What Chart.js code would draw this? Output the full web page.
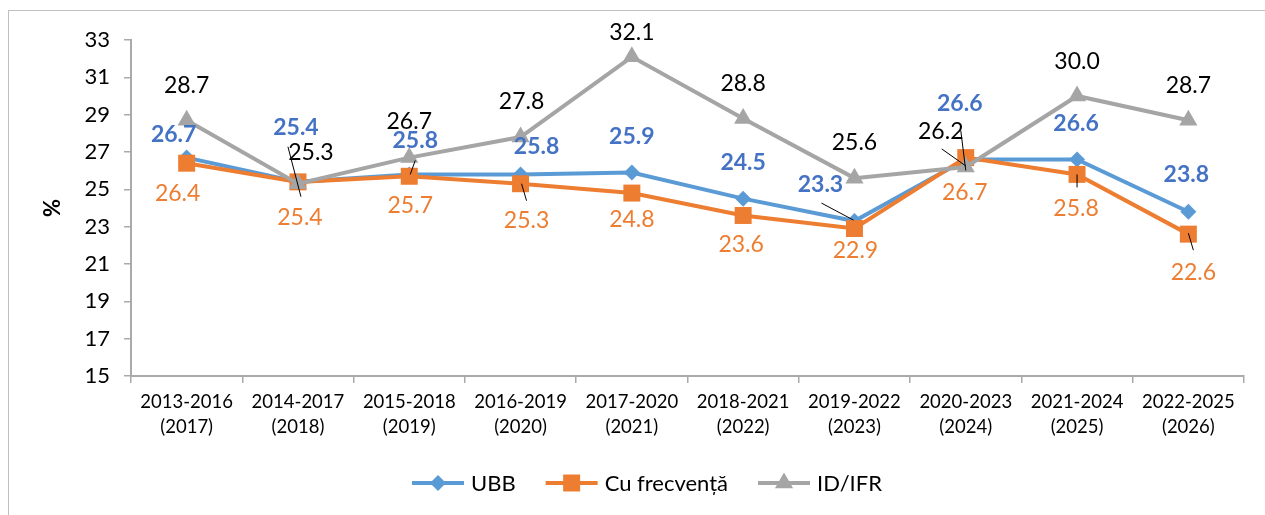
<!DOCTYPE html>
<html lang="ro">
<head>
    <meta charset="UTF-8">
    <title>UBB - rata</title>
    <script src="https://cdn.jsdelivr.net/npm/chart.js"></script>
    <style>
        html, body {
            margin: 0;
            padding: 0;
            background: #fff;
            overflow: hidden;
        }
        .frame {
            position: absolute;
            left: 8px;
            top: 10px;
            width: 1300px;
            height: 600px;
            border-left: 1.5px solid #bfbfbf;
            border-top: 1.5px solid #bfbfbf;
        }
        .chart-container {
            position: absolute;
            left: 0;
            top: 0;
            width: 1265px;
            height: 515px;
        }
    </style>
</head>
<body>
    <div class="frame"></div>
    <div class="chart-container">
        <canvas id="ubbChart"></canvas>
    </div>

    <script>
        // data
        const periods = ['2013-2016', '2014-2017', '2015-2018', '2016-2019', '2017-2020',
                         '2018-2021', '2019-2022', '2020-2023', '2021-2024', '2022-2025'];
        const years = ['(2017)', '(2018)', '(2019)', '(2020)', '(2021)',
                       '(2022)', '(2023)', '(2024)', '(2025)', '(2026)'];
        const ubb = [26.7, 25.4, 25.8, 25.8, 25.9, 24.5, 23.3, 26.6, 26.6, 23.8];
        const cuFrecventa = [26.4, 25.4, 25.7, 25.3, 24.8, 23.6, 22.9, 26.7, 25.8, 22.6];
        const idIfr = [28.7, 25.3, 26.7, 27.8, 32.1, 28.8, 25.6, 26.2, 30.0, 28.7];
        const yTicks = [15, 17, 19, 21, 23, 25, 27, 29, 31, 33];

        const FONT = 'Lato, "Open Sans", sans-serif';

        // label placement (px from the point), like the hand-moved labels of the original
        const labelPos = {
            0: [[-13, -23], [-2, -54], [6, -34], [16, -28], [0, -36], [0, -36], [-34, -36], [-6, -56], [-1, -36], [-2, -37]],
            1: [[-9, 30], [2, 36], [1, 29], [6, 37], [0, 27], [-2, 29], [1, 22], [-1, 35], [-1, 34], [5, 38]],
            2: [[0, -35], [13, -31], [0, -36], [1, -35], [0, -24], [0, -35], [0, -36], [-25, -35], [0, -34], [0, -35]]
        };
        // leader lines [dataset, index, x1, y1, x2, y2] relative to the point
        const leaders = [
            [2, 1, -10, -37, 3, 13],
            [0, 2, 6, -14, 1, 0],
            [0, 6, -33, -18, -1, -1],
            [0, 7, -5, -29, 0, 11],
            [2, 7, -24, -18, 0, -1],
            [1, 3, 1, 0, 6, 17],
            [1, 8, 0, 0, 0, 13],
            [1, 9, 0, -1, 5, 16]
        ];

        const labelStyle = [
            { color: '#4472C4', weight: 'bold' },
            { color: '#ED7D31', weight: 'normal' },
            { color: '#000000', weight: 'normal' }
        ];

        const dataLabels = {
            id: 'dataLabels',
            afterDatasetsDraw(chart) {
                const ctx = chart.ctx;
                ctx.save();
                ctx.strokeStyle = '#000';
                ctx.lineWidth = 1;
                leaders.forEach(([d, i, x1, y1, x2, y2]) => {
                    const p = chart.getDatasetMeta(d).data[i];
                    ctx.beginPath();
                    ctx.moveTo(p.x + x1, p.y + y1);
                    ctx.lineTo(p.x + x2, p.y + y2);
                    ctx.stroke();
                });
                ctx.textAlign = 'center';
                ctx.textBaseline = 'middle';
                chart.data.datasets.forEach((ds, d) => {
                    const meta = chart.getDatasetMeta(d);
                    ctx.font = labelStyle[d].weight + ' 23px ' + FONT;
                    ctx.fillStyle = labelStyle[d].color;
                    meta.data.forEach((p, i) => {
                        const off = labelPos[d][i];
                        ctx.fillText(ds.data[i].toFixed(1), p.x + off[0], p.y + off[1]);
                    });
                });
                ctx.restore();
            }
        };

        // legend with line + marker, like the office one
        const lineLegend = {
            id: 'lineLegend',
            afterDraw(chart) {
                const ctx = chart.ctx;
                const y = 483;
                ctx.save();
                ctx.font = '22px ' + FONT;
                ctx.textBaseline = 'middle';
                const items = chart.data.datasets.map(ds => ({
                    ds: ds,
                    w: 59 + ctx.measureText(ds.label).width
                }));
                const gap = 30;
                let total = items.reduce((s, it) => s + it.w, 0) + gap * (items.length - 1);
                let x = 647 - total / 2;
                items.forEach(it => {
                    const ds = it.ds;
                    ctx.strokeStyle = ds.borderColor;
                    ctx.lineWidth = 4;
                    ctx.beginPath();
                    ctx.moveTo(x, y);
                    ctx.lineTo(x + 52, y);
                    ctx.stroke();
                    ctx.fillStyle = ds.borderColor;
                    const cx = x + 26;
                    const r = ds.pointRadius;
                    ctx.beginPath();
                    if (ds.pointStyle === 'rectRot') {
                        ctx.moveTo(cx, y - r); ctx.lineTo(cx + r, y);
                        ctx.lineTo(cx, y + r); ctx.lineTo(cx - r, y);
                    } else if (ds.pointStyle === 'rect') {
                        const s = r * Math.SQRT1_2;
                        ctx.rect(cx - s, y - s, 2 * s, 2 * s);
                    } else {
                        ctx.moveTo(cx, y - r);
                        ctx.lineTo(cx + r * 0.866, y + r / 2);
                        ctx.lineTo(cx - r * 0.866, y + r / 2);
                    }
                    ctx.closePath();
                    ctx.fill();
                    ctx.fillStyle = '#000';
                    ctx.fillText(ds.label, x + 59, y + 1);
                    x += it.w + gap;
                });
                ctx.restore();
            }
        };

        const ctx = document.getElementById('ubbChart').getContext('2d');
        const ubbChart = new Chart(ctx, {
            type: 'line',
            data: {
                labels: periods.map((p, i) => [p, years[i]]),
                datasets: [{
                    label: 'UBB',
                    data: ubb,
                    borderColor: '#5B9BD5',
                    backgroundColor: '#5B9BD5',
                    borderWidth: 4,
                    pointStyle: 'rectRot',
                    pointRadius: 8,
                    pointBorderWidth: 0,
                    order: 3
                }, {
                    label: 'Cu frecvență',
                    data: cuFrecventa,
                    borderColor: '#ED7D31',
                    backgroundColor: '#ED7D31',
                    borderWidth: 4,
                    pointStyle: 'rect',
                    pointRadius: 12,
                    pointBorderWidth: 0,
                    order: 2
                }, {
                    label: 'ID/IFR',
                    data: idIfr,
                    borderColor: '#A5A5A5',
                    backgroundColor: '#A5A5A5',
                    borderWidth: 4,
                    pointStyle: 'triangle',
                    pointRadius: 10.5,
                    pointBorderWidth: 0,
                    order: 1
                }]
            },
            options: {
                responsive: true,
                maintainAspectRatio: false,
                animation: false,
                layout: { padding: { top: 40, right: 21, bottom: 0, left: 0 } },
                plugins: {
                    legend: { display: false },
                    tooltip: { enabled: false }
                },
                scales: {
                    x: {
                        offset: true,
                        grid: {
                            offset: true,
                            drawOnChartArea: false,
                            drawTicks: true,
                            tickLength: 7,
                            color: '#aaaaaa',
                            lineWidth: 1.5
                        },
                        border: { color: '#aaaaaa', width: 2 },
                        ticks: {
                            color: '#000',
                            padding: 7,
                            maxRotation: 0,
                            autoSkip: false,
                            font: { family: FONT, size: 18.5, lineHeight: 1.35 }
                        },
                        afterFit(scale) { scale.height = 139; }
                    },
                    y: {
                        min: 15,
                        max: 33,
                        afterBuildTicks(scale) {
                            scale.ticks = yTicks.map(v => ({ value: v }));
                        },
                        grid: {
                            drawOnChartArea: false,
                            drawTicks: true,
                            tickLength: 7,
                            color: '#aaaaaa',
                            lineWidth: 1.5
                        },
                        border: { color: '#aaaaaa', width: 2 },
                        ticks: {
                            color: '#000',
                            padding: 14,
                            font: { family: FONT, size: 22 }
                        },
                        title: {
                            display: true,
                            text: '%',
                            color: '#000',
                            padding: { top: 40, bottom: 0 },
                            font: { family: FONT, size: 22, weight: 'bold' }
                        },
                        afterFit(scale) { scale.width = 131; }
                    }
                }
            },
            plugins: [dataLabels, lineLegend]
        });
    </script>
</body>
</html>
